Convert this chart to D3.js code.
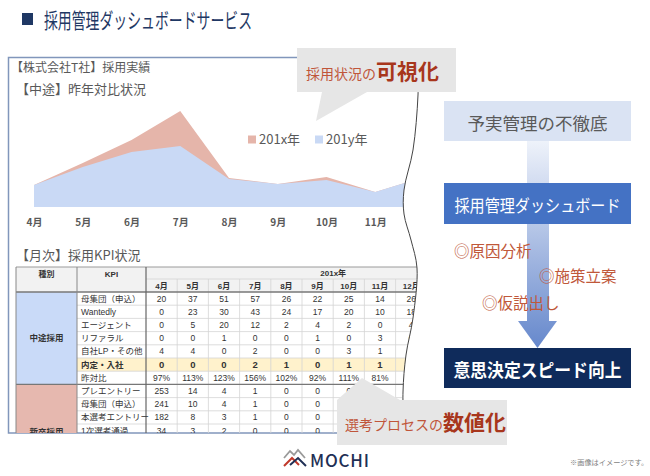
<!DOCTYPE html>
<html><head><meta charset="utf-8">
<script src="https://cdn.jsdelivr.net/npm/d3@7"></script>
<style>
body{margin:0;background:#fff}
svg{display:block}
text{font-family:"Noto Sans CJK JP","Noto Sans",sans-serif}
.tb text{font-family:"Liberation Sans","Noto Sans CJK JP",sans-serif}
</style>
</head><body>
<svg id="c" width="650" height="476"></svg>
<script>
// ---------- data ----------
const chartMonths = ['4月','5月','6月','7月','8月','9月','10月','11月','12月'];
const series201x = [22,44,67,96,29,23,30,15,30];
const series201y = [22,40,55,61,28,23,27,15,30];
const seriesNames = ['201x年','201y年'];

const tableYear = '201x年';
const tableMonths = ['4月','5月','6月','7月','8月','9月','10月','11月','12月'];
const groupNames = ['中途採用','新卒採用'];
const midKpis = ['母集団（申込）','Wantedly','エージェント','リファラル','自社LP・その他','内定・入社','昨対比'];
const midValues = [
  [20,37,51,57,26,22,25,14,26],
  [0,23,30,43,24,17,20,10,18],
  [0,5,20,12,2,4,2,0,4],
  [0,0,1,0,0,1,0,3,0],
  [4,4,0,2,0,0,3,1,0],
  [0,0,0,2,1,0,1,1,0],
  ['97%','113%','123%','156%','102%','92%','111%','81%','']
];
const newKpis = ['プレエントリー','母集団（申込）','本選考エントリー','1次選考通過'];
const newValues = [
  [253,14,4,1,0,0,0,'',''],
  [241,10,4,1,0,0,'','',''],
  [182,8,3,1,0,0,'','',''],
  [34,3,2,0,0,0,'','','']
];
const flowSteps = ['予実管理の不徹底','採用管理ダッシュボード','意思決定スピード向上'];
const flowActions = ['◎原因分析','◎施策立案','◎仮説出し'];

// ---------- drawing ----------
const svg = d3.select('#c');
const defs = svg.append('defs');
defs.append('clipPath').attr('id','tclip').append('rect').attr('x',0).attr('y',0).attr('width',650).attr('height',433);
const grad = defs.append('linearGradient').attr('id','ag').attr('gradientUnits','userSpaceOnUse')
  .attr('x1',0).attr('y1',141).attr('x2',0).attr('y2',348);
grad.append('stop').attr('offset',0).attr('stop-color','#eef2fa');
grad.append('stop').attr('offset',1).attr('stop-color','#6688cc');

// title
svg.append('rect').attr('x',22).attr('y',13).attr('width',11).attr('height',12).attr('fill','#1f3864');
svg.append('text').attr('x',44).attr('y',28).attr('font-size',21).attr('fill','#1f3864')
  .attr('textLength',208).attr('lengthAdjust','spacingAndGlyphs').text('採用管理ダッシュボードサービス');

// panel
svg.append('rect').attr('x',8.5).attr('y',57.5).attr('width',425).attr('height',375.5)
  .attr('fill','#fff').attr('stroke','#8196bb').attr('stroke-width',1.5);
svg.append('text').attr('x',11).attr('y',72).attr('font-size',12).attr('fill','#595959').text('【株式会社T社】採用実績');
svg.append('text').attr('x',16).attr('y',94).attr('font-size',13).attr('fill','#595959').text('【中途】昨年対比状況');

// area chart
const x = d3.scalePoint().domain(chartMonths).range([34,424]);
const y = d3.scaleLinear().domain([0,100]).range([207,107]);
const colors = ['#e5b5aa','#c9d9f5'];
[series201x, series201y].forEach((s,i)=>{
  const area = d3.area().x((d,j)=>x(chartMonths[j])).y0(y(0)).y1(d=>y(d));
  svg.append('path').datum(s).attr('d',area).attr('fill',colors[i]);
});
const ax = svg.append('g').attr('transform','translate(0,207)')
  .call(d3.axisBottom(x).tickSize(0).tickPadding(12));
ax.select('.domain').remove();
ax.selectAll('text').attr('font-size',10).attr('font-weight','bold').attr('fill','#595959')
  .attr('font-family','"Noto Sans CJK JP",sans-serif');

// legend
const legX = [248,315];
seriesNames.forEach((n,i)=>{
  svg.append('rect').attr('x',legX[i]).attr('y',135.5).attr('width',8).attr('height',8).attr('fill',colors[i]);
  svg.append('text').attr('x',legX[i]+11).attr('y',144).attr('font-size',13).attr('fill','#595959').text(n);
});

// table
svg.append('text').attr('x',16).attr('y',260).attr('font-size',13).attr('fill','#595959').text('【月次】採用KPI状況');
const tb = svg.append('g').attr('class','tb').attr('clip-path','url(#tclip)');
const rows = midKpis.map((k,i)=>({g:0,kpi:k,vals:midValues[i]}))
  .concat(newKpis.map((k,i)=>({g:1,kpi:k,vals:newValues[i]})));
const xm = d3.scaleBand().domain(tableMonths).range([146,146+31.2*tableMonths.length]);
const yr = d3.scaleBand().domain(d3.range(rows.length+1)).range([292,292+13.2*(rows.length+1)]);
const X0=16, X1=77, X2=146, XE=xm.range()[1], YT=267, YH=279, YB=292;
const bw = xm.bandwidth(), rh = yr.bandwidth();
const nMid = midKpis.length;
const yEnd = yr.range()[1];
tb.append('rect').attr('x',X0).attr('y',YT).attr('width',XE-X0).attr('height',YB-YT).attr('fill','#f2f2f2');
tb.append('rect').attr('x',X0).attr('y',YB).attr('width',X1-X0).attr('height',rh*nMid).attr('fill','#c9daf8');
tb.append('rect').attr('x',X0).attr('y',yr(nMid)).attr('width',X1-X0).attr('height',yEnd-yr(nMid)).attr('fill','#e6b8af');
const hiIdx = midKpis.indexOf('内定・入社');
tb.append('rect').attr('x',X1).attr('y',yr(hiIdx)).attr('width',XE-X1).attr('height',rh).attr('fill','#fff2cc');
// grid lines
rows.forEach((r,i)=>{
  if(i===0||i===nMid) return;
  tb.append('line').attr('x1',X1).attr('x2',XE).attr('y1',yr(i)).attr('y2',yr(i)).attr('stroke','#d4d4d4').attr('stroke-width',0.8);
});
tb.append('line').attr('x1',X2).attr('x2',XE).attr('y1',YH).attr('y2',YH).attr('stroke','#d4d4d4').attr('stroke-width',0.8);
tableMonths.forEach((m,i)=>{
  if(i===0) return;
  tb.append('line').attr('x1',xm(m)).attr('x2',xm(m)).attr('y1',YH).attr('y2',yEnd).attr('stroke','#d4d4d4').attr('stroke-width',0.8);
});
[[X0,YT,XE,YT,'#9a9a9a',1],[X0,YB,XE,YB,'#777',1.4],[X0,yr(nMid),XE,yr(nMid),'#777',1.4],
 [X0,YT,X0,yEnd,'#888',1],[X1,YT,X1,yEnd,'#888',1],[X2,YT,X2,yEnd,'#666',1.2]].forEach(l=>{
  tb.append('line').attr('x1',l[0]).attr('y1',l[1]).attr('x2',l[2]).attr('y2',l[3]).attr('stroke',l[4]).attr('stroke-width',l[5]);
});
// header text
const hdr = (t,xx,yy)=>tb.append('text').attr('x',xx).attr('y',yy).attr('text-anchor','middle').attr('dominant-baseline','central')
  .attr('font-size',8).attr('font-weight','bold').attr('fill','#333').text(t);
hdr('種別',(X0+X1)/2,274); hdr('KPI',(X1+X2)/2,274);
hdr(tableYear, X2+31.2*6, 273);
tableMonths.forEach(m=>hdr(m, xm(m)+bw/2, 286));
// group labels
tb.append('text').attr('x',(X0+X1)/2).attr('y',YB+rh*nMid/2).attr('text-anchor','middle').attr('dominant-baseline','central')
  .attr('font-size',8.5).attr('font-weight','bold').attr('fill','#333').text(groupNames[0]);
tb.append('text').attr('x',(X0+X1)/2).attr('y',431.5).attr('text-anchor','middle').attr('dominant-baseline','central')
  .attr('font-size',8.5).attr('font-weight','bold').attr('fill','#333').text(groupNames[1]);
rows.forEach((r,i)=>{
  const bold = (r.g===0 && i===hiIdx);
  tb.append('text').attr('x',X1+4).attr('y',yr(i)+rh/2).attr('dominant-baseline','central')
    .attr('font-size',8.5).attr('font-weight',bold?'bold':'normal').attr('fill','#333').text(r.kpi);
  r.vals.forEach((v,j)=>{
    tb.append('text').attr('x',xm(tableMonths[j])+bw/2).attr('y',yr(i)+rh/2).attr('dominant-baseline','central')
      .attr('text-anchor','middle').attr('font-size',bold?9.5:8.5).attr('font-weight',bold?'bold':'normal')
      .attr('fill','#333').text(v);
  });
});

// torn edge mask + line
const wavePts = [[418,56],[418,95],[413,150],[404,190],[404,214],[411,240],[417,268],[413,318],[406,355],[403,392],[404,434]];
const wl = d3.line().curve(d3.curveCatmullRom);
svg.append('path').attr('d', wl(wavePts)+'L440,434L440,50L418,50Z').attr('fill','#fff');
svg.append('path').attr('d', wl(wavePts)).attr('fill','none').attr('stroke','#444').attr('stroke-width',1);

// callouts
svg.append('path').attr('d','M297,48H456V92H367L316,121L322,92H297Z').attr('fill','#e6e6e6');
const c1 = svg.append('text').attr('x',306).attr('y',79).attr('fill','#c0553a');
c1.append('tspan').attr('font-size',14).text('採用状況の');
c1.append('tspan').attr('font-size',21).attr('font-weight','bold').attr('fill','#a8361c').text('可視化');
svg.append('path').attr('d','M337,400L362,378L400,400H507V445H337Z').attr('fill','#e6e6e6');
const c2 = svg.append('text').attr('x',345).attr('y',430).attr('fill','#c0553a');
c2.append('tspan').attr('font-size',14).text('選考プロセスの');
c2.append('tspan').attr('font-size',21).attr('font-weight','bold').attr('fill','#a8361c').text('数値化');

// flow
svg.append('rect').attr('x',527).attr('y',141).attr('width',22).attr('height',181).attr('fill','url(#ag)');
svg.append('path').attr('d','M518,321H557L537.5,348Z').attr('fill','url(#ag)');
const boxes = [
  {y:101,h:40,fill:'#dae3f3',tc:'#595959',fs:17,fw:'normal',tl:140},
  {y:183,h:41,fill:'#4472c4',tc:'#fff',fs:17,fw:'normal',tl:166},
  {y:348,h:40,fill:'#0f2b5b',tc:'#fff',fs:18,fw:'bold',tl:168}
];
flowSteps.forEach((s,i)=>{
  const b = boxes[i];
  svg.append('rect').attr('x',444).attr('y',b.y).attr('width',187).attr('height',b.h).attr('fill',b.fill);
  svg.append('text').attr('x',537.5).attr('y',b.y+b.h/2+1).attr('text-anchor','middle').attr('dominant-baseline','central')
    .attr('font-size',b.fs).attr('font-weight',b.fw).attr('fill',b.tc)
    .attr('textLength',b.tl).attr('lengthAdjust','spacingAndGlyphs').text(s);
});
const actPos = [[454,250],[539,275],[482,302]];
flowActions.forEach((a,i)=>{
  svg.append('text').attr('x',actPos[i][0]).attr('y',actPos[i][1]).attr('dominant-baseline','central')
    .attr('font-size',15.5).attr('fill','#c0583a').text(a);
});

// logo
svg.append('path').attr('d','M284,458L290,451L294,455L298,450L305,458').attr('fill','none').attr('stroke','#9a9a9a').attr('stroke-width',1.8);
svg.append('path').attr('d','M284,466L292,458L299,465').attr('fill','none').attr('stroke','#c0392b').attr('stroke-width',2);
svg.append('path').attr('d','M290,465L298,458L306,466').attr('fill','none').attr('stroke','#1f2f55').attr('stroke-width',2);
svg.append('text').attr('x',310).attr('y',459).attr('dominant-baseline','central').attr('font-size',17)
  .attr('font-family','Lato, sans-serif').attr('font-weight',500).attr('letter-spacing',0.8).attr('fill','#1f2f55').text('MOCHI');
svg.append('text').attr('x',570).attr('y',462).attr('dominant-baseline','central').attr('font-size',7.2)
  .attr('fill','#7f7f7f').text('※画像はイメージです。');
</script>
</body></html>
